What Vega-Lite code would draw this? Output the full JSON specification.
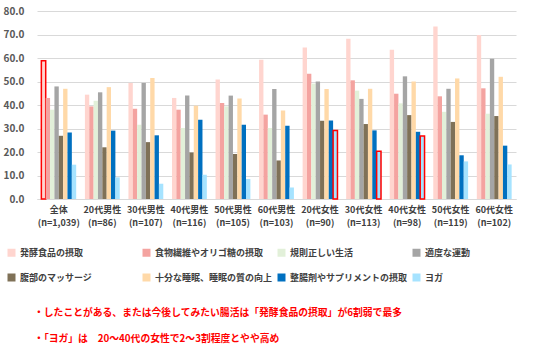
{
  "$schema": "https://vega.github.io/schema/vega-lite/v6.json",
  "width": 479,
  "height": 188,
  "autosize": {"type": "none"},
  "padding": {"left": 37, "top": 11, "right": 20, "bottom": 152},
  "background": "white",
  "config": {
    "font": "Noto Sans CJK JP",
    "view": {"stroke": null}
  },
  "title": {
    "text": ["・したことがある、または今後してみたい腸活は「発酵食品の摂取」が6割弱で最多", "・「ヨガ」は　20～40代の女性で2～3割程度とやや高め"],
    "orient": "bottom",
    "anchor": "start",
    "frame": "group",
    "offset": 25,
    "dx": -3,
    "color": "#FF0000",
    "fontSize": 9.8,
    "fontWeight": "bold",
    "lineHeight": 26,
    "font": "Noto Sans CJK JP"
  },
  "data": {
    "values": [
      {"g": "全体 (n=1,039)", "s": "発酵食品の摂取", "v": 58.8, "hl": true},
      {"g": "全体 (n=1,039)", "s": "食物繊維やオリゴ糖の摂取", "v": 43.0, "hl": false},
      {"g": "全体 (n=1,039)", "s": "規則正しい生活", "v": 38.0, "hl": false},
      {"g": "全体 (n=1,039)", "s": "適度な運動", "v": 47.9, "hl": false},
      {"g": "全体 (n=1,039)", "s": "腹部のマッサージ", "v": 26.9, "hl": false},
      {"g": "全体 (n=1,039)", "s": "十分な睡眠、睡眠の質の向上", "v": 46.9, "hl": false},
      {"g": "全体 (n=1,039)", "s": "整腸剤やサプリメントの摂取", "v": 28.3, "hl": false},
      {"g": "全体 (n=1,039)", "s": "ヨガ", "v": 14.6, "hl": false},

      {"g": "20代男性 (n=86)", "s": "発酵食品の摂取", "v": 44.4, "hl": false},
      {"g": "20代男性 (n=86)", "s": "食物繊維やオリゴ糖の摂取", "v": 39.4, "hl": false},
      {"g": "20代男性 (n=86)", "s": "規則正しい生活", "v": 41.8, "hl": false},
      {"g": "20代男性 (n=86)", "s": "適度な運動", "v": 45.4, "hl": false},
      {"g": "20代男性 (n=86)", "s": "腹部のマッサージ", "v": 22.0, "hl": false},
      {"g": "20代男性 (n=86)", "s": "十分な睡眠、睡眠の質の向上", "v": 47.6, "hl": false},
      {"g": "20代男性 (n=86)", "s": "整腸剤やサプリメントの摂取", "v": 29.1, "hl": false},
      {"g": "20代男性 (n=86)", "s": "ヨガ", "v": 9.2, "hl": false},

      {"g": "30代男性 (n=107)", "s": "発酵食品の摂取", "v": 49.4, "hl": false},
      {"g": "30代男性 (n=107)", "s": "食物繊維やオリゴ糖の摂取", "v": 38.4, "hl": false},
      {"g": "30代男性 (n=107)", "s": "規則正しい生活", "v": 31.6, "hl": false},
      {"g": "30代男性 (n=107)", "s": "適度な運動", "v": 49.4, "hl": false},
      {"g": "30代男性 (n=107)", "s": "腹部のマッサージ", "v": 24.2, "hl": false},
      {"g": "30代男性 (n=107)", "s": "十分な睡眠、睡眠の質の向上", "v": 51.5, "hl": false},
      {"g": "30代男性 (n=107)", "s": "整腸剤やサプリメントの摂取", "v": 27.1, "hl": false},
      {"g": "30代男性 (n=107)", "s": "ヨガ", "v": 6.5, "hl": false},

      {"g": "40代男性 (n=116)", "s": "発酵食品の摂取", "v": 43.0, "hl": false},
      {"g": "40代男性 (n=116)", "s": "食物繊維やオリゴ糖の摂取", "v": 38.0, "hl": false},
      {"g": "40代男性 (n=116)", "s": "規則正しい生活", "v": 30.2, "hl": false},
      {"g": "40代男性 (n=116)", "s": "適度な運動", "v": 44.0, "hl": false},
      {"g": "40代男性 (n=116)", "s": "腹部のマッサージ", "v": 19.8, "hl": false},
      {"g": "40代男性 (n=116)", "s": "十分な睡眠、睡眠の質の向上", "v": 39.7, "hl": false},
      {"g": "40代男性 (n=116)", "s": "整腸剤やサプリメントの摂取", "v": 33.7, "hl": false},
      {"g": "40代男性 (n=116)", "s": "ヨガ", "v": 10.3, "hl": false},

      {"g": "50代男性 (n=105)", "s": "発酵食品の摂取", "v": 50.8, "hl": false},
      {"g": "50代男性 (n=105)", "s": "食物繊維やオリゴ糖の摂取", "v": 40.9, "hl": false},
      {"g": "50代男性 (n=105)", "s": "規則正しい生活", "v": 39.4, "hl": false},
      {"g": "50代男性 (n=105)", "s": "適度な運動", "v": 44.0, "hl": false},
      {"g": "50代男性 (n=105)", "s": "腹部のマッサージ", "v": 19.1, "hl": false},
      {"g": "50代男性 (n=105)", "s": "十分な睡眠、睡眠の質の向上", "v": 42.8, "hl": false},
      {"g": "50代男性 (n=105)", "s": "整腸剤やサプリメントの摂取", "v": 31.6, "hl": false},
      {"g": "50代男性 (n=105)", "s": "ヨガ", "v": 8.5, "hl": false},

      {"g": "60代男性 (n=103)", "s": "発酵食品の摂取", "v": 59.3, "hl": false},
      {"g": "60代男性 (n=103)", "s": "食物繊維やオリゴ糖の摂取", "v": 35.9, "hl": false},
      {"g": "60代男性 (n=103)", "s": "規則正しい生活", "v": 30.2, "hl": false},
      {"g": "60代男性 (n=103)", "s": "適度な運動", "v": 46.8, "hl": false},
      {"g": "60代男性 (n=103)", "s": "腹部のマッサージ", "v": 16.4, "hl": false},
      {"g": "60代男性 (n=103)", "s": "十分な睡眠、睡眠の質の向上", "v": 37.7, "hl": false},
      {"g": "60代男性 (n=103)", "s": "整腸剤やサプリメントの摂取", "v": 31.2, "hl": false},
      {"g": "60代男性 (n=103)", "s": "ヨガ", "v": 4.9, "hl": false},

      {"g": "20代女性 (n=90)", "s": "発酵食品の摂取", "v": 64.5, "hl": false},
      {"g": "20代女性 (n=90)", "s": "食物繊維やオリゴ糖の摂取", "v": 53.3, "hl": false},
      {"g": "20代女性 (n=90)", "s": "規則正しい生活", "v": 49.1, "hl": false},
      {"g": "20代女性 (n=90)", "s": "適度な運動", "v": 50.0, "hl": false},
      {"g": "20代女性 (n=90)", "s": "腹部のマッサージ", "v": 33.3, "hl": false},
      {"g": "20代女性 (n=90)", "s": "十分な睡眠、睡眠の質の向上", "v": 46.8, "hl": false},
      {"g": "20代女性 (n=90)", "s": "整腸剤やサプリメントの摂取", "v": 33.4, "hl": false},
      {"g": "20代女性 (n=90)", "s": "ヨガ", "v": 29.1, "hl": true},

      {"g": "30代女性 (n=113)", "s": "発酵食品の摂取", "v": 68.2, "hl": false},
      {"g": "30代女性 (n=113)", "s": "食物繊維やオリゴ糖の摂取", "v": 50.5, "hl": false},
      {"g": "30代女性 (n=113)", "s": "規則正しい生活", "v": 46.1, "hl": false},
      {"g": "30代女性 (n=113)", "s": "適度な運動", "v": 42.6, "hl": false},
      {"g": "30代女性 (n=113)", "s": "腹部のマッサージ", "v": 31.9, "hl": false},
      {"g": "30代女性 (n=113)", "s": "十分な睡眠、睡眠の質の向上", "v": 46.9, "hl": false},
      {"g": "30代女性 (n=113)", "s": "整腸剤やサプリメントの摂取", "v": 29.2, "hl": false},
      {"g": "30代女性 (n=113)", "s": "ヨガ", "v": 20.3, "hl": true},

      {"g": "40代女性 (n=98)", "s": "発酵食品の摂取", "v": 63.5, "hl": false},
      {"g": "40代女性 (n=98)", "s": "食物繊維やオリゴ糖の摂取", "v": 44.8, "hl": false},
      {"g": "40代女性 (n=98)", "s": "規則正しい生活", "v": 40.7, "hl": false},
      {"g": "40代女性 (n=98)", "s": "適度な運動", "v": 52.2, "hl": false},
      {"g": "40代女性 (n=98)", "s": "腹部のマッサージ", "v": 35.7, "hl": false},
      {"g": "40代女性 (n=98)", "s": "十分な睡眠、睡眠の質の向上", "v": 50.0, "hl": false},
      {"g": "40代女性 (n=98)", "s": "整腸剤やサプリメントの摂取", "v": 28.6, "hl": false},
      {"g": "40代女性 (n=98)", "s": "ヨガ", "v": 26.8, "hl": true},

      {"g": "50代女性 (n=119)", "s": "発酵食品の摂取", "v": 73.4, "hl": false},
      {"g": "50代女性 (n=119)", "s": "食物繊維やオリゴ糖の摂取", "v": 43.7, "hl": false},
      {"g": "50代女性 (n=119)", "s": "規則正しい生活", "v": 37.1, "hl": false},
      {"g": "50代女性 (n=119)", "s": "適度な運動", "v": 46.9, "hl": false},
      {"g": "50代女性 (n=119)", "s": "腹部のマッサージ", "v": 32.8, "hl": false},
      {"g": "50代女性 (n=119)", "s": "十分な睡眠、睡眠の質の向上", "v": 51.3, "hl": false},
      {"g": "50代女性 (n=119)", "s": "整腸剤やサプリメントの摂取", "v": 18.6, "hl": false},
      {"g": "50代女性 (n=119)", "s": "ヨガ", "v": 16.0, "hl": false},

      {"g": "60代女性 (n=102)", "s": "発酵食品の摂取", "v": 69.8, "hl": false},
      {"g": "60代女性 (n=102)", "s": "食物繊維やオリゴ糖の摂取", "v": 47.1, "hl": false},
      {"g": "60代女性 (n=102)", "s": "規則正しい生活", "v": 36.3, "hl": false},
      {"g": "60代女性 (n=102)", "s": "適度な運動", "v": 59.7, "hl": false},
      {"g": "60代女性 (n=102)", "s": "腹部のマッサージ", "v": 35.3, "hl": false},
      {"g": "60代女性 (n=102)", "s": "十分な睡眠、睡眠の質の向上", "v": 52.0, "hl": false},
      {"g": "60代女性 (n=102)", "s": "整腸剤やサプリメントの摂取", "v": 22.7, "hl": false},
      {"g": "60代女性 (n=102)", "s": "ヨガ", "v": 14.7, "hl": false}
    ]
  },
  "mark": {"type": "bar", "stroke": "#FF0000"},
  "encoding": {
    "x": {
      "field": "g",
      "type": "nominal",
      "sort": null,
      "scale": {"paddingInner": 0.2, "paddingOuter": 0.1},
      "axis": {
        "title": null,
        "labelAngle": 0,
        "labelExpr": "split(datum.label, ' ')",
        "labelFont": "Noto Sans CJK JP",
        "labelFontSize": 9,
        "labelFontWeight": "bold",
        "labelColor": "#404040",
        "labelLineHeight": 13,
        "labelPadding": 6,
        "ticks": false,
        "domainColor": "#D9D9D9",
        "domainWidth": 1
      }
    },
    "xOffset": {
      "field": "s",
      "type": "nominal",
      "sort": ["発酵食品の摂取", "食物繊維やオリゴ糖の摂取", "規則正しい生活", "適度な運動", "腹部のマッサージ", "十分な睡眠、睡眠の質の向上", "整腸剤やサプリメントの摂取", "ヨガ"],
      "scale": {"paddingInner": 0, "paddingOuter": 0}
    },
    "y": {
      "field": "v",
      "type": "quantitative",
      "scale": {"domain": [0, 80], "nice": false},
      "axis": {
        "title": null,
        "values": [0, 10, 20, 30, 40, 50, 60, 70, 80],
        "format": ".1f",
        "labelFont": "Noto Sans CJK JP",
        "labelFontSize": 10,
        "labelFontWeight": "bold",
        "labelColor": "#595959",
        "labelPadding": 13,
        "ticks": false,
        "domain": false,
        "gridColor": "#D9D9D9",
        "gridWidth": 1
      }
    },
    "color": {
      "field": "s",
      "type": "nominal",
      "scale": {
        "domain": ["発酵食品の摂取", "食物繊維やオリゴ糖の摂取", "規則正しい生活", "適度な運動", "腹部のマッサージ", "十分な睡眠、睡眠の質の向上", "整腸剤やサプリメントの摂取", "ヨガ"],
        "range": ["#FFD5CF", "#F4A3A0", "#E2F0D9", "#A5A5A5", "#7F7157", "#FFD9A8", "#0070C0", "#A6E3FF"]
      },
      "legend": {
        "title": null,
        "orient": "none",
        "legendX": -30,
        "legendY": 237,
        "direction": "horizontal",
        "columns": 4,
        "gridAlign": "all",
        "columnPadding": 4,
        "rowPadding": 15,
        "padding": 0,
        "symbolType": "square",
        "symbolSize": 64,
        "symbolStrokeWidth": 0,
        "symbolOpacity": 1,
        "labelFont": "Noto Sans CJK JP",
        "labelFontSize": 9,
        "labelFontWeight": "bold",
        "labelColor": "#404040",
        "labelOffset": 4,
        "labelLimit": 200
      }
    },
    "strokeWidth": {
      "condition": {"test": "datum.hl", "value": 1.5},
      "value": 0
    }
  }
}
